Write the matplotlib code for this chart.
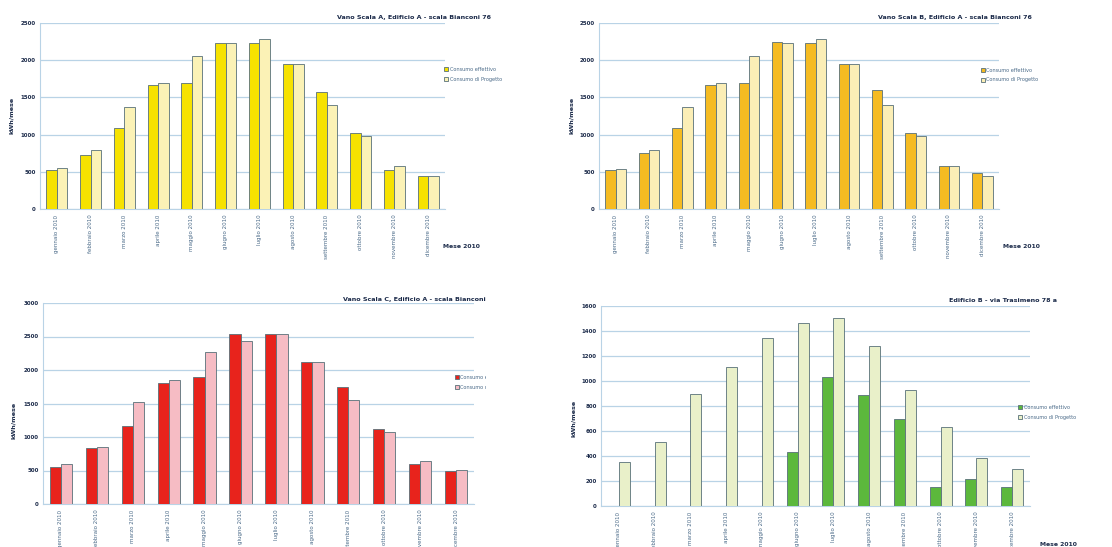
import matplotlib.pyplot as plt
import numpy as np
from matplotlib.transforms import Bbox, TransformedBbox

W, H = 1112, 547

mesi = ["gennaio 2010", "febbraio 2010", "marzo 2010", "aprile 2010", "maggio 2010",
        "giugno 2010", "luglio 2010", "agosto 2010", "settembre 2010", "ottobre 2010",
        "novembre 2010", "dicembre 2010"]

# Vano Scala A
scala_a_eff = [520, 724, 1085, 1660, 1690, 2225, 2225, 1955, 1570, 1020, 520, 440]
scala_a_prog = [550, 790, 1370, 1690, 2060, 2225, 2290, 1955, 1395, 980, 575, 440]
# Vano Scala B
scala_b_eff = [520, 750, 1085, 1660, 1690, 2240, 2225, 1955, 1595, 1020, 575, 480]
scala_b_prog = [540, 790, 1370, 1690, 2060, 2225, 2290, 1955, 1395, 980, 575, 450]
# Vano Scala C
scala_c_eff = [555, 838, 1168, 1811, 1901, 2530, 2530, 2126, 1751, 1123, 600, 494]
scala_c_prog = [600, 853, 1515, 1856, 2275, 2440, 2530, 2126, 1557, 1078, 644, 509]
# Edificio B
edif_b_eff = [0, 0, 0, 0, 0, 432, 1032, 888, 696, 152, 216, 152]
edif_b_prog = [352, 512, 900, 1112, 1344, 1464, 1504, 1280, 928, 632, 384, 296]

fig = plt.figure(figsize=(W / 100, H / 100), dpi=100)
fig.patch.set_facecolor("white")

grid_c = "#b9d3e6"
text_c = "#1c2b4a"
tick_c = "#4a6a88"
edge_c = "#587078"


def px_rect(l, t, r, b):
    return [l / W, 1 - b / H, (r - l) / W, (b - t) / H]


def clip_to(artist, x1):
    box = TransformedBbox(Bbox.from_extents(0, 0, x1 / W, 1), fig.transFigure)
    artist.set_clip_box(box)
    artist.set_clip_on(True)


def panel(rect, eff, prog, c1, c2, ymax, step, title, tx, ty, leg_x, leg_y,
          ylab_x, ylab_y, xl_x, xl_y, clip_x=None):
    ax = fig.add_axes(px_rect(*rect))
    x = np.arange(len(mesi))
    w = 0.31
    ax.bar(x - w / 2, eff, w, color=c1, edgecolor=edge_c, linewidth=0.6,
           label="Consumo effettivo", zorder=3)
    ax.bar(x + w / 2, prog, w, color=c2, edgecolor=edge_c, linewidth=0.6,
           label="Consumo di Progetto", zorder=3)
    ax.set_xlim(-0.5, len(mesi) - 0.5)
    ax.set_ylim(0, ymax)
    ax.set_yticks(np.arange(0, ymax + 1, step))
    ax.yaxis.grid(True, color=grid_c, linewidth=0.9, zorder=0)
    for s in ["top", "right"]:
        ax.spines[s].set_visible(False)
    ax.spines["left"].set_color(grid_c)
    ax.spines["bottom"].set_color(grid_c)
    ax.tick_params(axis="y", labelsize=4, colors=text_c, length=0, pad=3)
    ax.tick_params(axis="x", labelsize=4, colors=tick_c, length=0, pad=4)
    ax.set_xticks(x)
    ax.set_xticklabels(mesi, rotation=90)
    for lab in ax.get_yticklabels():
        lab.set_fontweight("bold")
    t = fig.text(tx / W, 1 - ty / H, title, fontsize=4.6, fontweight="bold",
                 color=text_c, ha="left", va="center")
    fig.text(ylab_x / W, 1 - ylab_y / H, "kWh/mese", fontsize=4.6, fontweight="bold",
             color=text_c, rotation=90, ha="center", va="center")
    fig.text(xl_x / W, 1 - xl_y / H, "Mese 2010", fontsize=4.4, fontweight="bold",
             color=text_c, ha="left", va="center")
    leg = ax.legend(loc="upper left", bbox_to_anchor=(leg_x / W, 1 - leg_y / H),
                    bbox_transform=fig.transFigure, frameon=False, fontsize=3.6,
                    handlelength=0.8, handleheight=0.8, handletextpad=0.3,
                    labelspacing=0.9, borderpad=0, borderaxespad=0)
    for txt in leg.get_texts():
        txt.set_color(tick_c)
    if clip_x is not None:
        clip_to(t, clip_x)
        for a in leg.get_texts():
            clip_to(a, clip_x)
    return ax


panel((40, 23, 445, 209), scala_a_eff, scala_a_prog, "#f6e200", "#fbf2b6", 2500, 500,
      "Vano Scala A, Edificio A - scala Bianconi 76", 337, 17, 444, 67,
      12, 115, 443, 247)
panel((599, 23, 999, 209), scala_b_eff, scala_b_prog, "#f5bb22", "#fbeeb6", 2500, 500,
      "Vano Scala B, Edificio A - scala Bianconi 76", 878, 17, 981, 68,
      571, 115, 1003, 247)
panel((43, 303, 474, 504), scala_c_eff, scala_c_prog, "#e8231c", "#f6bcc4", 3000, 500,
      "Vano Scala C, Edificio A - scala Bianconi 76", 343, 299, 455, 375,
      14, 420, 560, 560, clip_x=486)
panel((601, 306, 1030, 506), edif_b_eff, edif_b_prog, "#5cb83c", "#e9f0c9", 1600, 200,
      "Edificio B - via Trasimeno 78 a", 949, 301, 1018, 405,
      574, 418, 1040, 544)

fig.savefig("out.png", dpi=100, facecolor="white")
